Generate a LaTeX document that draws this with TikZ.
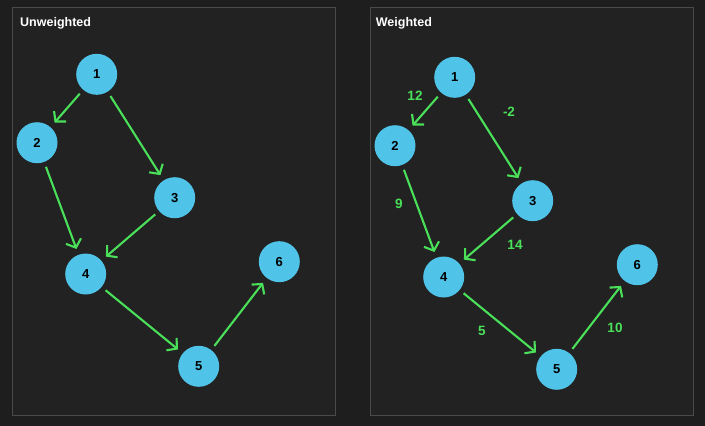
\documentclass[tikz,border=0pt]{standalone}
\usepackage{fontspec}
\setmainfont{Liberation Sans}
\usetikzlibrary{arrows.meta}
\definecolor{bgc}{RGB}{30,30,30}
\definecolor{panelc}{RGB}{34,34,34}
\definecolor{borderc}{RGB}{74,74,74}
\definecolor{nodec}{RGB}{80,195,232}
\definecolor{edgec}{RGB}{74,224,90}
\tikzset{
  vtx/.style={circle, fill=nodec, minimum size=41pt, inner sep=0pt, font=\fontsize{13}{13}\selectfont\bfseries, text=black},
  panel/.style={draw=borderc, fill=panelc, line width=1pt},
  ttl/.style={anchor=base west, font=\fontsize{12.5}{12.5}\selectfont\bfseries, text=white, inner sep=0pt},
  edg/.style={draw=edgec, line width=2.1pt, -{Straight Barb[length=7pt,width=16pt,line width=2.1pt]}, shorten <=5pt, shorten >=6pt},
  wl/.style={font=\fontsize{13.5}{13.5}\selectfont\bfseries, text=edgec, inner sep=0pt}
}
\begin{document}
\begin{tikzpicture}[x=1pt,y=-1pt]
\fill[bgc] (0,0) rectangle (705,426);
\useasboundingbox (0,0) rectangle (705,426);
\draw[panel] (12.3,7.3) rectangle (335.3,415.3);
\draw[panel] (370,7.3) rectangle (693.3,415.5);
\node[ttl] (t1) at (20,26) {Unweighted};
\node[ttl] (t2) at (375.7,26) {Weighted};
% left graph
\node[vtx] (a1) at (96.7,74.3) {1};
\node[vtx] (a2) at (37,142.7) {2};
\node[vtx] (a3) at (174.7,197.7) {3};
\node[vtx] (a4) at (85.7,274) {4};
\node[vtx] (a5) at (198.7,366.3) {5};
\node[vtx] (a6) at (279.3,261.7) {6};
\draw[edg] (a1) -- (a2);
\draw[edg] (a1) -- (a3);
\draw[edg] (a2) -- (a4);
\draw[edg] (a3) -- (a4);
\draw[edg] (a4) -- (a5);
\draw[edg] (a5) -- (a6);
% right graph
\node[vtx] (b1) at (454.7,77.3) {1};
\node[vtx] (b2) at (395,145.7) {2};
\node[vtx] (b3) at (532.7,200.7) {3};
\node[vtx] (b4) at (443.7,277) {4};
\node[vtx] (b5) at (556.7,369.3) {5};
\node[vtx] (b6) at (637.3,264.7) {6};
\draw[edg] (b1) -- (b2);
\draw[edg] (b1) -- (b3);
\draw[edg] (b2) -- (b4);
\draw[edg] (b3) -- (b4);
\draw[edg] (b4) -- (b5);
\draw[edg] (b5) -- (b6);
\node[wl] (w12) at (415,96) {12};
\node[wl] (w13) at (509,112) {-2};
\node[wl] (w24) at (399,204) {9};
\node[wl] (w34) at (515,245) {14};
\node[wl] (w45) at (482,331) {5};
\node[wl] (w56) at (615,328) {10};
\end{tikzpicture}
\end{document}
